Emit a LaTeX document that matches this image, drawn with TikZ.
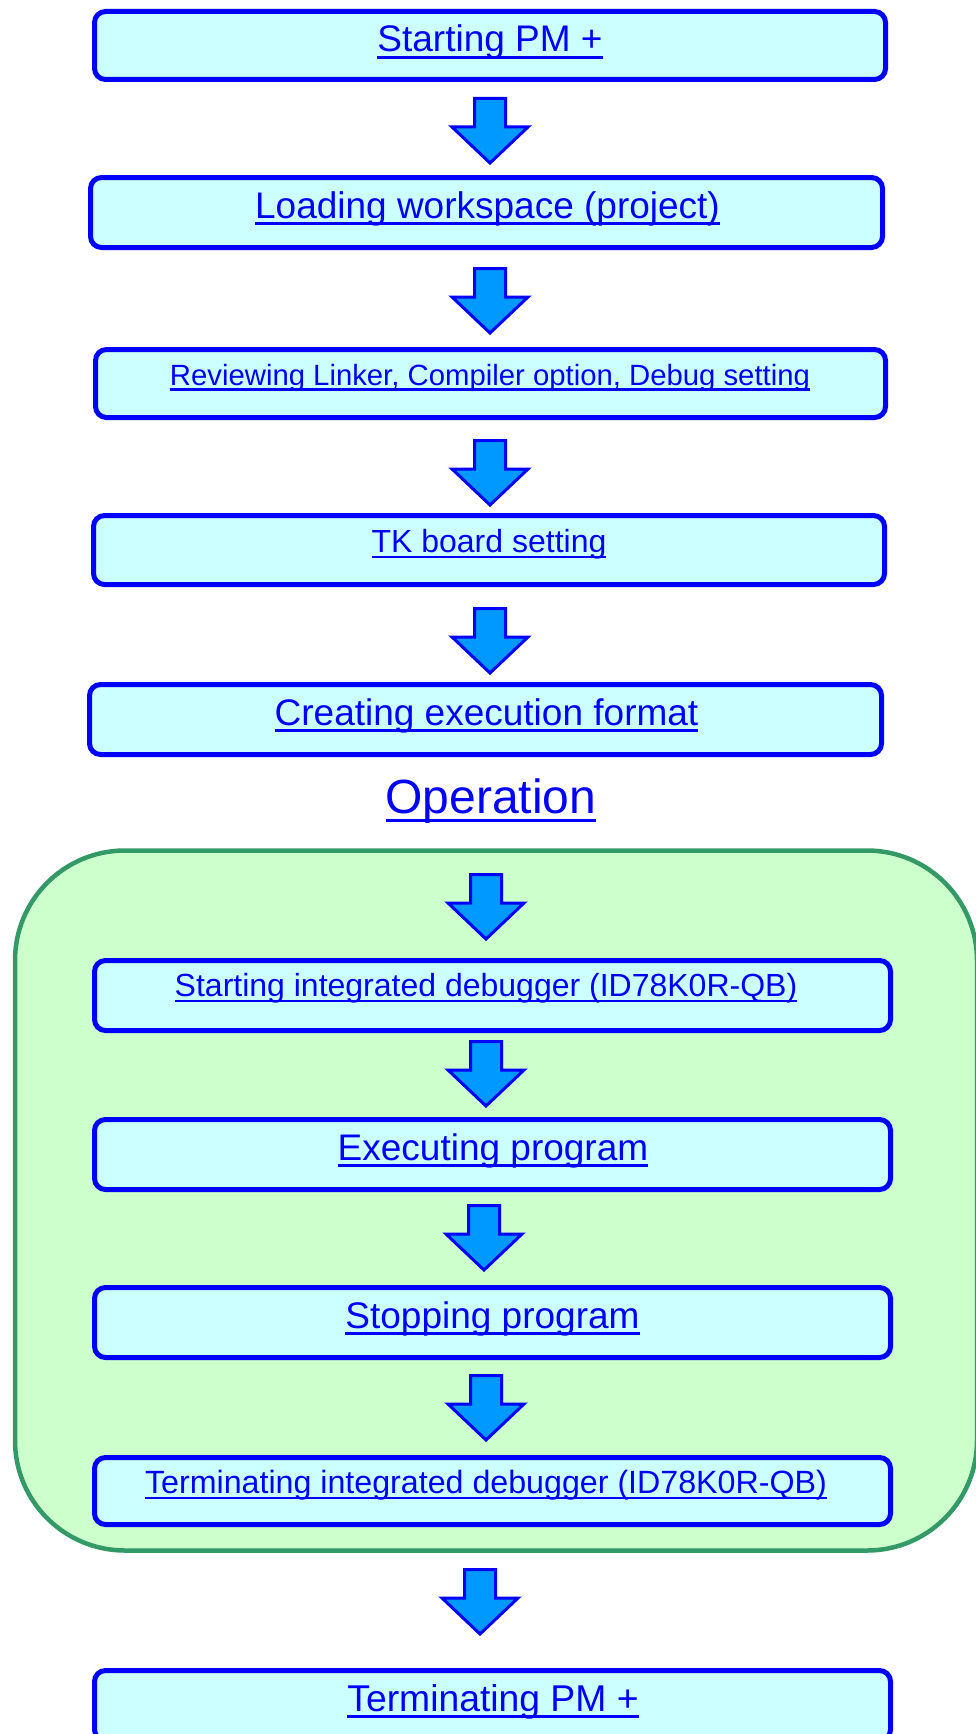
\documentclass[tikz,border=0pt]{standalone}
\usepackage{fontspec}
\setmainfont{Liberation Sans}
\definecolor{boxfill}{HTML}{CCFFFF}
\definecolor{linkblue}{HTML}{0000FF}
\definecolor{arrowfill}{HTML}{0099FF}
\definecolor{grpfill}{HTML}{CCFFCC}
\definecolor{grpline}{HTML}{339966}
\newcommand\ulink[1]{\setbox0=\hbox{#1}\copy0\llap{\rule[-0.19em]{\wd0}{0.075em}}}
\newcommand\flowarrow[2]{%
  \draw[barrow, shift={(#1,#2)}] (-15.5,1.5) -- (15.5,1.5) -- (15.5,30) -- (38,30) -- (0,66) -- (-38,30) -- (-15.5,30) -- cycle;}
\tikzset{
  stepbox/.style={draw=linkblue, line width=5pt, fill=boxfill, rounded corners=11pt, inner sep=0pt},
  lbl/.style={text=linkblue, anchor=base, inner sep=0pt},
  barrow/.style={draw=linkblue, line width=3pt, fill=arrowfill},
  grp/.style={draw=grpline, line width=4.5pt, fill=grpfill, rounded corners=110pt, inner sep=0pt},
}
\begin{document}
\begin{tikzpicture}[x=1pt,y=-1pt]
\useasboundingbox (0,0) rectangle (976,1734);
\fill[white] (0,0) rectangle (976,1734);
% group
\node[grp, minimum width=962pt, minimum height=700pt] (ops) at (496,1200.5) {};
% boxes
\node[stepbox, minimum width=791pt, minimum height=68pt] (b1) at (490,45.5) {};
\node[stepbox, minimum width=792pt, minimum height=70pt] (b2) at (486.5,212.5) {};
\node[stepbox, minimum width=790pt, minimum height=68pt] (b3) at (490.5,383.5) {};
\node[stepbox, minimum width=791pt, minimum height=69pt] (b4) at (489,550) {};
\node[stepbox, minimum width=792pt, minimum height=70pt] (b5) at (485.5,719.5) {};
\node[stepbox, minimum width=796pt, minimum height=70pt] (b6) at (492.5,995.5) {};
\node[stepbox, minimum width=796pt, minimum height=70pt] (b7) at (492.5,1154.5) {};
\node[stepbox, minimum width=796pt, minimum height=70pt] (b8) at (492.5,1322.5) {};
\node[stepbox, minimum width=796pt, minimum height=67pt] (b9) at (492.5,1491) {};
\node[stepbox, minimum width=796pt, minimum height=70pt] (b10) at (492.5,1705.5) {};
% labels
\node[lbl, font=\fontsize{37}{40}\selectfont] (t1) at (490,52) {\ulink{Starting PM +}};
\node[lbl, font=\fontsize{37}{40}\selectfont] (t2) at (487.5,218) {\ulink{Loading workspace (project)}};
\node[lbl, font=\fontsize{29.3}{32}\selectfont] (t3) at (490,385) {\ulink{Reviewing Linker, Compiler option, Debug setting}};
\node[lbl, font=\fontsize{32}{35}\selectfont] (t4) at (489,552) {\ulink{TK board setting}};
\node[lbl, font=\fontsize{37}{40}\selectfont] (t5) at (486.5,725) {\ulink{Creating execution format}};
\node[lbl, font=\fontsize{48}{52}\selectfont] (op) at (491,813) {\ulink{Operation}};
\node[lbl, font=\fontsize{32}{35}\selectfont] (t6) at (486,996) {\ulink{Starting integrated debugger (ID78K0R-QB)}};
\node[lbl, font=\fontsize{37}{40}\selectfont] (t7) at (493,1160) {\ulink{Executing program}};
\node[lbl, font=\fontsize{37}{40}\selectfont] (t8) at (492.5,1328) {\ulink{Stopping program}};
\node[lbl, font=\fontsize{32.2}{35}\selectfont] (t9) at (486,1493) {\ulink{Terminating integrated debugger (ID78K0R-QB)}};
\node[lbl, font=\fontsize{37.3}{40}\selectfont] (t10) at (493,1711) {\ulink{Terminating PM +}};
% block arrows
\flowarrow{490}{97}
\flowarrow{490}{267}
\flowarrow{490}{439}
\flowarrow{490}{607}
\flowarrow{486}{873}
\flowarrow{486}{1040}
\flowarrow{484}{1204}
\flowarrow{486}{1374}
\flowarrow{480}{1568}
\end{tikzpicture}
\end{document}
